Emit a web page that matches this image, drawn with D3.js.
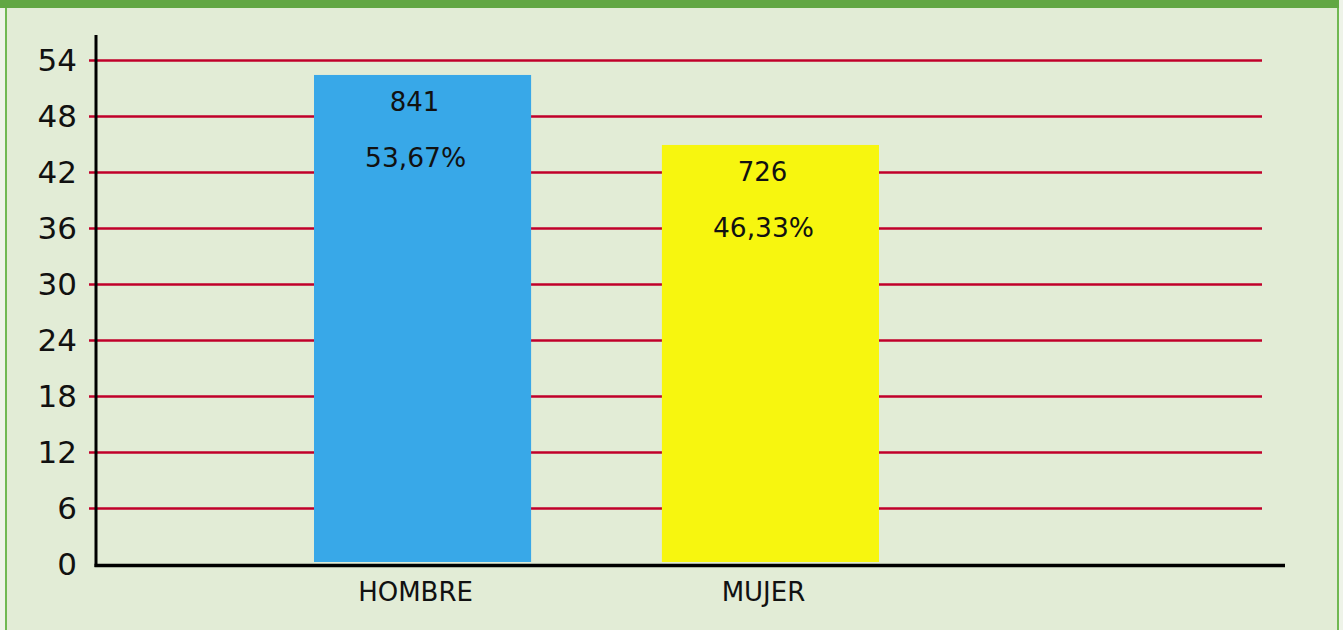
<!DOCTYPE html>
<html>
<head>
<meta charset="utf-8">
<script src="https://cdn.jsdelivr.net/npm/d3@7"></script>
<style>
  html, body { margin: 0; padding: 0; background: #eef3e8; }
  #chart { width: 1343px; height: 630px; }
  text { font-family: "DejaVu Sans", Verdana, sans-serif; fill: #111; }
</style>
</head>
<body>
<div id="chart"></div>
<script>
const categories = ["HOMBRE", "MUJER"];
const counts = [841, 726];
const percentLabels = ["53,67%", "46,33%"];
// bar heights as drawn in the picture
const barValues = [52.45, 44.95];
const yTicks = [0, 6, 12, 18, 24, 30, 36, 42, 48, 54];
const colors = ["#38a8e8", "#f7f60f"];

const W = 1343, H = 630;

const svg = d3.select("#chart")
  .append("svg")
  .attr("width", W)
  .attr("height", H);

// frame: light green panel, green top band, thin side borders
svg.append("rect")
  .attr("x", 6).attr("y", 0)
  .attr("width", 1332).attr("height", H)
  .attr("fill", "#e2ecd6");
svg.append("rect")
  .attr("x", 0).attr("y", 0)
  .attr("width", 1339).attr("height", 8)
  .attr("fill", "#62a744");
svg.append("rect")
  .attr("x", 5).attr("y", 8)
  .attr("width", 2).attr("height", H - 8)
  .attr("fill", "#70b852");
svg.append("rect")
  .attr("x", 1337).attr("y", 8)
  .attr("width", 2).attr("height", H - 8)
  .attr("fill", "#70b852");

const axisX = 96;

const y = d3.scaleLinear()
  .domain([0, 54])
  .range([564.5, 60.5]);

const x = d3.scaleBand()
  .domain(categories)
  .range([248.6, 944.4])
  .paddingInner(0.376)
  .paddingOuter(0.188);

// gridlines + tick marks
svg.append("g")
  .selectAll("line")
  .data(yTicks.filter(d => d > 0))
  .join("line")
  .attr("x1", 89)
  .attr("x2", 1262)
  .attr("y1", d => y(d))
  .attr("y2", d => y(d))
  .attr("stroke", "#c0002a")
  .attr("stroke-width", 2.5);

// tick labels
svg.append("g")
  .selectAll("text")
  .data(yTicks)
  .join("text")
  .attr("x", 77)
  .attr("y", d => y(d))
  .attr("dy", "0.34em")
  .attr("text-anchor", "end")
  .attr("font-size", "31px")
  .text(d => d);

// bars
svg.append("g")
  .selectAll("rect")
  .data(categories)
  .join("rect")
  .attr("x", d => x(d))
  .attr("y", (d, i) => y(barValues[i]))
  .attr("width", x.bandwidth())
  .attr("height", (d, i) => y(0) - 2.5 - y(barValues[i]))
  .attr("fill", (d, i) => colors[i]);

// value labels inside bars
const lbl = svg.append("g");
lbl.selectAll("text.count")
  .data(categories)
  .join("text")
  .attr("class", "count")
  .attr("x", d => x(d) + x.bandwidth() / 2 - 8)
  .attr("y", (d, i) => y(barValues[i]) + 36)
  .attr("text-anchor", "middle")
  .attr("font-size", "26px")
  .text((d, i) => counts[i]);
lbl.selectAll("text.pct")
  .data(categories)
  .join("text")
  .attr("class", "pct")
  .attr("x", d => x(d) + x.bandwidth() / 2 - 7)
  .attr("y", (d, i) => y(barValues[i]) + 92)
  .attr("text-anchor", "middle")
  .attr("font-size", "26.5px")
  .text((d, i) => percentLabels[i]);

// category labels
svg.append("g")
  .selectAll("text")
  .data(categories)
  .join("text")
  .attr("x", d => x(d) + x.bandwidth() / 2 - 7)
  .attr("y", 601)
  .attr("text-anchor", "middle")
  .attr("font-size", "26px")
  .text(d => d);

// axes lines
svg.append("line")
  .attr("x1", axisX).attr("x2", axisX)
  .attr("y1", 35).attr("y2", y(0) + 2.5)
  .attr("stroke", "#000")
  .attr("stroke-width", 3);
svg.append("line")
  .attr("x1", axisX - 1.5).attr("x2", 1285)
  .attr("y1", y(0) + 1).attr("y2", y(0) + 1)
  .attr("stroke", "#000")
  .attr("stroke-width", 3.5);
</script>
</body>
</html>
